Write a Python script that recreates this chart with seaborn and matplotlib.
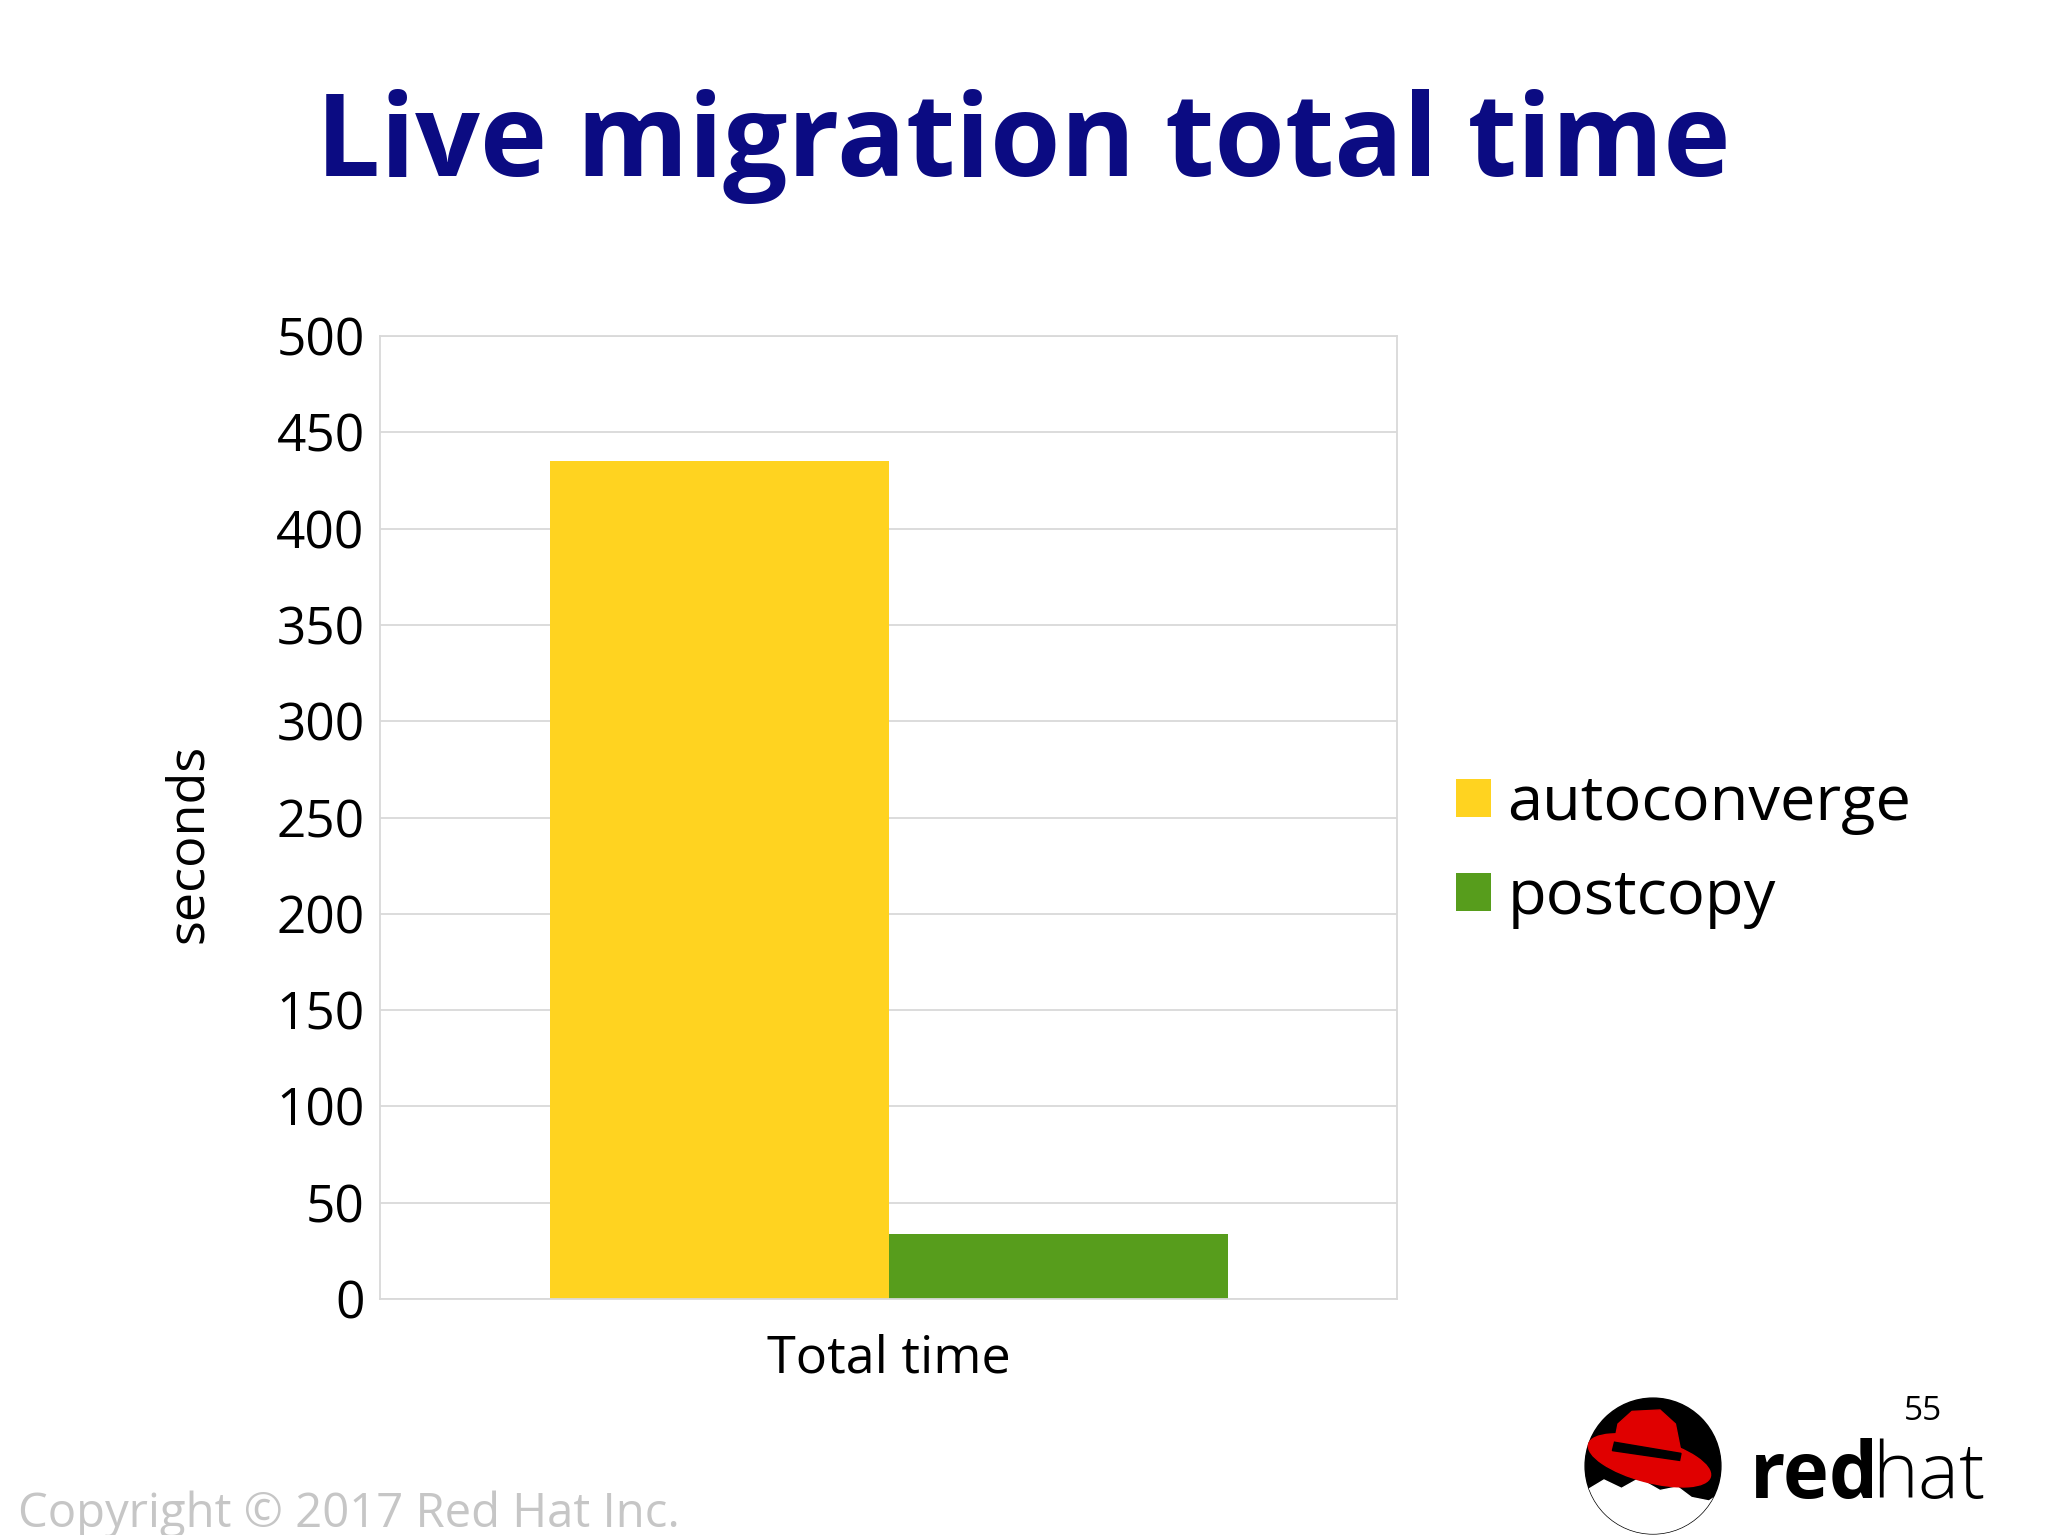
import numpy as np
import pandas as pd
import matplotlib
matplotlib.use('Agg')
import matplotlib.pyplot as plt
import matplotlib.patches as mpatches
import seaborn as sns

# data
category = ['Total time']
series = ['autoconverge', 'postcopy']
seconds = [435, 34]
colors = ['#FFD320', '#579D1C']
y_ticks = [0, 50, 100, 150, 200, 250, 300, 350, 400, 450, 500]

df = pd.DataFrame({'metric': category * len(series), 'method': series, 'seconds': seconds})

sns.set_theme(style='white')
plt.rcParams['font.family'] = ['Open Sans', 'DejaVu Sans']
plt.rcParams['text.color'] = 'black'

W, H = 2048, 1535
fig = plt.figure(figsize=(W / 100, H / 100), dpi=100)
fig.patch.set_facecolor('white')

# axes box in pixel terms
left, right, top, bottom = 380, 1397, 336, 1299
ax = fig.add_axes([left / W, 1 - bottom / H, (right - left) / W, (bottom - top) / H])

sns.barplot(data=df, x='metric', y='seconds', hue='method', palette=colors,
            width=2 / 3, gap=0, saturation=1, ax=ax, legend=True)
for p in ax.patches:
    p.set_linewidth(0)

ax.set_ylim(0, 500)
ax.set_xlim(-0.5, 0.5)
ax.set_yticks(y_ticks)
ax.set_yticklabels([str(v) for v in y_ticks], fontsize=37)
ax.yaxis.grid(True, color='#d9d9d9', linewidth=1.3)
ax.set_axisbelow(True)
for s in ax.spines.values():
    s.set_color('#d9d9d9')
    s.set_linewidth(1.3)
ax.tick_params(axis='y', length=8, width=1.3, color='#d9d9d9', pad=3, labelcolor='black')
ax.tick_params(axis='x', length=0, pad=25, labelsize=37.5, labelcolor='black')
ax.set_xticks([-0.5, 0.5], minor=True)
ax.tick_params(axis='x', which='minor', length=8, width=1.3, color='#d9d9d9')

ax.set_xlabel('')
ax.set_ylabel('seconds', fontsize=37.5, color='black')
ax.yaxis.set_label_coords((214 - left) / (right - left), (bottom - 843) / (bottom - top))

leg = ax.legend(loc='center left', bbox_to_anchor=(1456 / W, 1 - 851 / H),
                bbox_transform=fig.transFigure, frameon=False, fontsize=45.5,
                handlelength=0.56, handleheight=0.56, handletextpad=0.25,
                labelspacing=0.5, borderaxespad=0, borderpad=0)
for t in leg.get_texts():
    t.set_color('black')

fig.text(1023 / W, 1 - 147 / H, 'Live migration total time', ha='center', va='center',
         fontsize=82, fontweight='bold', color='#0b0b82')

fig.text(18 / W, 1 - 1527 / H, 'Copyright \u00a9 2017 Red Hat Inc.', ha='left',
         va='baseline', fontsize=34, color='#c6c6c6')

# red hat logo, roughly
lax = fig.add_axes([(1653 - 70) / W, 1 - (1466 + 70) / H, 140 / W, 140 / H])
lax.set_xlim(-1, 1)
lax.set_ylim(-1, 1)
lax.set_aspect('equal')
lax.axis('off')
circ = mpatches.Circle((0, 0), 0.97, color='black')
lax.add_patch(circ)
face = mpatches.Polygon([(-0.95, -0.35), (-0.7, -0.2), (-0.45, -0.32), (-0.2, -0.18),
                         (0.1, -0.35), (0.35, -0.3), (0.55, -0.45), (0.8, -0.5),
                         (0.95, -0.4), (0.95, -1), (-0.95, -1)], color='white')
face.set_clip_path(circ)
lax.add_patch(face)
brim = mpatches.Ellipse((-0.05, 0.08), 1.8, 0.62, angle=-15, color='#e00000')
lax.add_patch(brim)
crown = mpatches.Polygon([(-0.6, 0.1), (-0.5, 0.6), (-0.3, 0.78), (0.1, 0.8),
                          (0.32, 0.6), (0.42, 0.1)], color='#e00000')
lax.add_patch(crown)
band = mpatches.Polygon([(-0.58, 0.22), (0.38, 0.08), (0.4, 0.18), (-0.55, 0.34)],
                        color='black')
lax.add_patch(band)

fig.text(1750 / W, 1 - 1498 / H, 'red', ha='left', va='baseline', fontsize=56,
         fontweight='bold', color='black')
fig.text(1872 / W, 1 - 1498 / H, 'hat', ha='left', va='baseline', fontsize=56,
         fontweight='light', color='black')
fig.text(1923 / W, 1 - 1428 / H, '55', ha='center', va='bottom', fontsize=24, color='black')

fig.savefig('out.png', dpi=100, facecolor='white')
